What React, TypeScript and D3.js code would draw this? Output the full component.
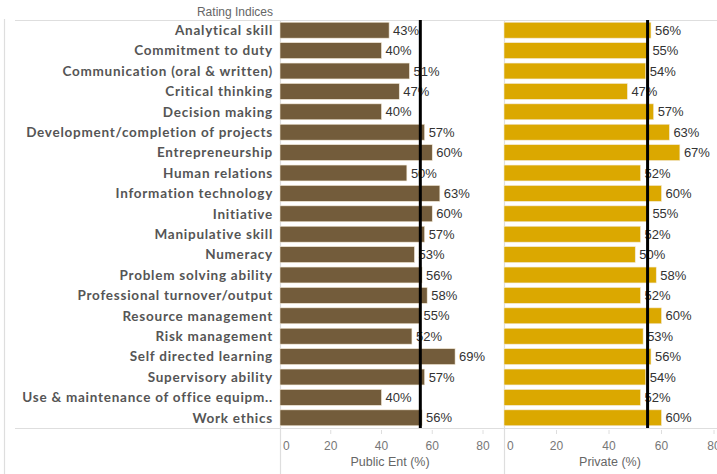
import React from "react";
import * as d3 from "d3";

const categories = [
  "Analytical skill",
  "Commitment to duty",
  "Communication (oral & written)",
  "Critical thinking",
  "Decision making",
  "Development/completion of projects",
  "Entrepreneurship",
  "Human relations",
  "Information technology",
  "Initiative",
  "Manipulative skill",
  "Numeracy",
  "Problem solving ability",
  "Professional turnover/output",
  "Resource management",
  "Risk management",
  "Self directed learning",
  "Supervisory ability",
  "Use & maintenance of office equipm..",
  "Work ethics",
];
const publicValues = [43, 40, 51, 47, 40, 57, 60, 50, 63, 60, 57, 53, 56, 58, 55, 52, 69, 57, 40, 56];
const privateValues = [56, 55, 54, 47, 57, 63, 67, 52, 60, 55, 52, 50, 58, 52, 60, 53, 56, 54, 52, 60];
const publicRef = 55.3;
const privateRef = 54.7;
const tickValues = [0, 20, 40, 60, 80];
const panelTitles = ["Public Ent (%)", "Private (%)"];
const headerLabel = "Rating Indices";

const W = 717;
const H = 474;
const top = 20;
const axisY = 428;
const grid = "#dedede";

export default function App() {
  const y = d3.scaleBand<string>().domain(categories).range([top, axisY]).paddingInner(0.22).paddingOuter(0.11);
  const xL = d3.scaleLinear().domain([0, 80]).range([280, 483]);
  const xR = d3.scaleLinear().domain([0, 80]).range([504, 714]);
  const panels = [
    { x: xL, vals: publicValues, color: "#735c3b", ref: publicRef, title: panelTitles[0], titleX: 390 },
    { x: xR, vals: privateValues, color: "#dba800", ref: privateRef, title: panelTitles[1], titleX: 610 },
  ];
  const bw = y.bandwidth();
  return (
    <svg width={W} height={H} style={{ position: "absolute", left: 0, top: 0, background: "#fff" }}>
      <line x1={4.5} x2={4.5} y1={19} y2={H} stroke={grid} strokeWidth={1.2} />
      <line x1={15} x2={W} y1={top + 0.5} y2={top + 0.5} stroke={grid} strokeWidth={1.2} />
      <line x1={15} x2={W} y1={axisY + 0.5} y2={axisY + 0.5} stroke={grid} strokeWidth={1.2} />
      <line x1={280.5} x2={280.5} y1={top} y2={H} stroke={grid} strokeWidth={1.2} />
      <line x1={504.5} x2={504.5} y1={top} y2={H} stroke={grid} strokeWidth={1.2} />
      <text x={273} y={16} textAnchor="end" fontFamily="Liberation Sans, Arial, sans-serif" fontSize={12} fill="#666">
        {headerLabel}
      </text>
      {categories.map((c) => (
        <text
          key={c}
          x={273}
          y={(y(c) as number) + bw / 2}
          dy="0.36em"
          textAnchor="end"
          fontFamily="Lato, sans-serif"
          fontWeight={700}
          fontSize={13.5}
          letterSpacing={0.75}
          fill="#555"
        >
          {c}
        </text>
      ))}
      {panels.map((p, pi) => (
        <g key={pi}>
          {p.vals.map((v, i) => {
            const c = categories[i];
            const yy = y(c) as number;
            return (
              <g key={c}>
                <rect x={p.x(0)} y={yy} width={p.x(v) - p.x(0)} height={bw} fill={p.color} stroke="#f3ead8" strokeWidth={0.6} />
                <text
                  x={p.x(v) + 4}
                  y={yy + bw / 2}
                  dy="0.36em"
                  fontFamily="Liberation Sans, Arial, sans-serif"
                  fontSize={13}
                  fill="#333"
                >
                  {v}%
                </text>
              </g>
            );
          })}
          <line x1={p.x(p.ref)} x2={p.x(p.ref)} y1={top} y2={axisY} stroke="#000" strokeWidth={3} />
          {tickValues.map((t) => (
            <g key={t}>
              {t > 0 && <line x1={p.x(t)} x2={p.x(t)} y1={axisY + 2} y2={axisY + 6} stroke={grid} strokeWidth={1} />}
              <text
                x={t === 0 ? p.x(0) + 3 : p.x(t)}
                y={450}
                textAnchor={t === 0 ? "start" : "middle"}
                fontFamily="Liberation Sans, Arial, sans-serif"
                fontSize={12}
                fill="#777"
              >
                {t}
              </text>
            </g>
          ))}
          <text x={p.titleX} y={466} textAnchor="middle" fontFamily="Liberation Sans, Arial, sans-serif" fontSize={12.5} fill="#666">
            {p.title}
          </text>
        </g>
      ))}
    </svg>
  );
}
